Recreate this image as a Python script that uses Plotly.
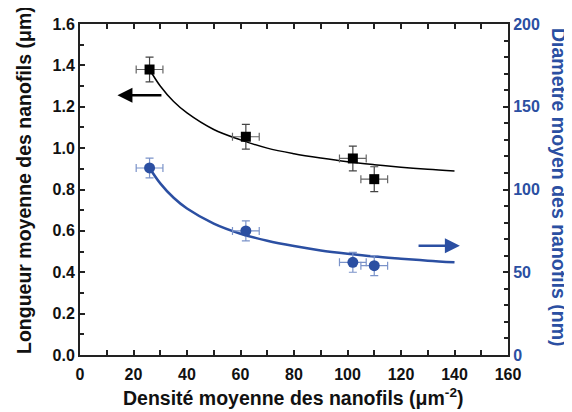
import plotly.graph_objects as go

# measured points
density = [26, 62, 102, 110]
density_err = [5, 5, 5, 5]
length_um = [1.38, 1.055, 0.95, 0.85]
length_err = [0.06, 0.06, 0.06, 0.06]
diameter_nm = [113, 75, 56, 54]
diameter_err = [6, 6, 6, 6]

# fitted curves
fit_x = [26, 30, 35, 40, 50, 60, 70, 80, 90, 100, 110, 120, 130, 140]
fit_length = [1.38, 1.30, 1.225, 1.17, 1.09, 1.04, 1.00, 0.973, 0.952, 0.934, 0.92, 0.908, 0.898, 0.89]
fit_diameter = [113, 103.7, 95, 88.5, 79.4, 73.3, 69, 65.8, 63.2, 61.2, 59.5, 58.2, 57, 56]

blue = '#2b4fa2'
font = 'Liberation Sans, Arial, sans-serif'

fig = go.Figure()

fig.add_trace(go.Scatter(x=fit_x, y=fit_length, mode='lines', line=dict(color='black', width=1.5, shape='spline'),
                         showlegend=False))
fig.add_trace(go.Scatter(x=fit_x, y=fit_diameter, mode='lines', yaxis='y2',
                         line=dict(color=blue, width=2.5, shape='spline'), showlegend=False))

fig.add_trace(go.Scatter(x=density, y=length_um, mode='markers',
                         marker=dict(symbol='square', color='black', size=10),
                         error_x=dict(type='data', array=density_err, color='#666666', thickness=1.2, width=4),
                         error_y=dict(type='data', array=length_err, color='#444444', thickness=1.2, width=4),
                         showlegend=False))
fig.add_trace(go.Scatter(x=density, y=diameter_nm, mode='markers', yaxis='y2',
                         marker=dict(symbol='circle', color=blue, size=11),
                         error_x=dict(type='data', array=density_err, color='#7b93c9', thickness=1.2, width=4),
                         error_y=dict(type='data', array=diameter_err, color='#7b93c9', thickness=1.2, width=4),
                         showlegend=False))

# arrows pointing to the axis each curve belongs to
fig.add_annotation(x=14, y=1.255, ax=31, ay=1.255, xref='x', yref='y', axref='x', ayref='y',
                   text='', showarrow=True, arrowhead=2, arrowsize=1.2, arrowwidth=2.5, arrowcolor='black')
fig.add_annotation(x=142, y=66, ax=126, ay=66, xref='x', yref='y2', axref='x', ayref='y2',
                   text='', showarrow=True, arrowhead=2, arrowsize=1.2, arrowwidth=2.5, arrowcolor=blue)

# page has an 8px body margin, so the figure is 8px smaller and everything sits 8px up/left
W, H = 564, 404
L, R, T, B = 72, 64, 16, 57
pw, ph = W - L - R, H - T - B

def px(x, y):
    # window pixel -> paper coords
    return (x - 8 - L) / pw, (H - B - (y - 8)) / ph

# axis titles as annotations so the right one can read top-to-bottom
tx, ty = px(293, 397)
fig.add_annotation(x=tx, y=ty, xref='paper', yref='paper', xanchor='center', yanchor='middle',
                   text='Densité moyenne des nanofils (μm<sup>-2</sup>)', showarrow=False,
                   font=dict(family=font, size=19.5, color='#111111', weight='bold'))
tx, ty = px(24, 180)
fig.add_annotation(x=tx, y=ty, xref='paper', yref='paper', xanchor='center', yanchor='middle',
                   text='Longueur moyenne des nanofils (μm)', showarrow=False, textangle=-90,
                   font=dict(family=font, size=19.5, color='#111111', weight='bold'))
tx, ty = px(559, 187)
fig.add_annotation(x=tx, y=ty, xref='paper', yref='paper', xanchor='center', yanchor='middle',
                   text='Diametre moyen des nanofils (nm)', showarrow=False, textangle=90,
                   font=dict(family=font, size=19.5, color=blue, weight='bold'))

axis_common = dict(showgrid=False, zeroline=False, showline=True, linecolor='#222222', linewidth=2,
                   ticks='inside', ticklen=5, tickwidth=1.5, tickcolor='#222222', automargin=False)

fig.update_layout(
    width=W, height=H,
    margin=dict(l=L, r=R, t=T, b=B),
    plot_bgcolor='white', paper_bgcolor='white',
    font=dict(family=font, size=14, color='#111111'),
    xaxis=dict(range=[0, 160], dtick=20, mirror='allticks', ticklabelstandoff=4,
               minor=dict(ticks='inside', dtick=10, ticklen=4, tickcolor='#222222'),
               tickfont=dict(family=font, size=16, color='#111111', weight='bold'),
               **axis_common),
    yaxis=dict(range=[0, 1.6], dtick=0.2, tickformat='.1f',
               minor=dict(ticks='inside', dtick=0.1, ticklen=4, tickcolor='#222222'),
               tickfont=dict(family=font, size=16, color='#111111', weight='bold'),
               **axis_common),
    yaxis2=dict(range=[0, 200], dtick=50, overlaying='y', side='right',
                minor=dict(ticks='inside', dtick=10, ticklen=4, tickcolor='#222222'),
                tickfont=dict(family=font, size=16, color=blue, weight='bold'),
                **axis_common),
)

fig.write_html("out.html")
